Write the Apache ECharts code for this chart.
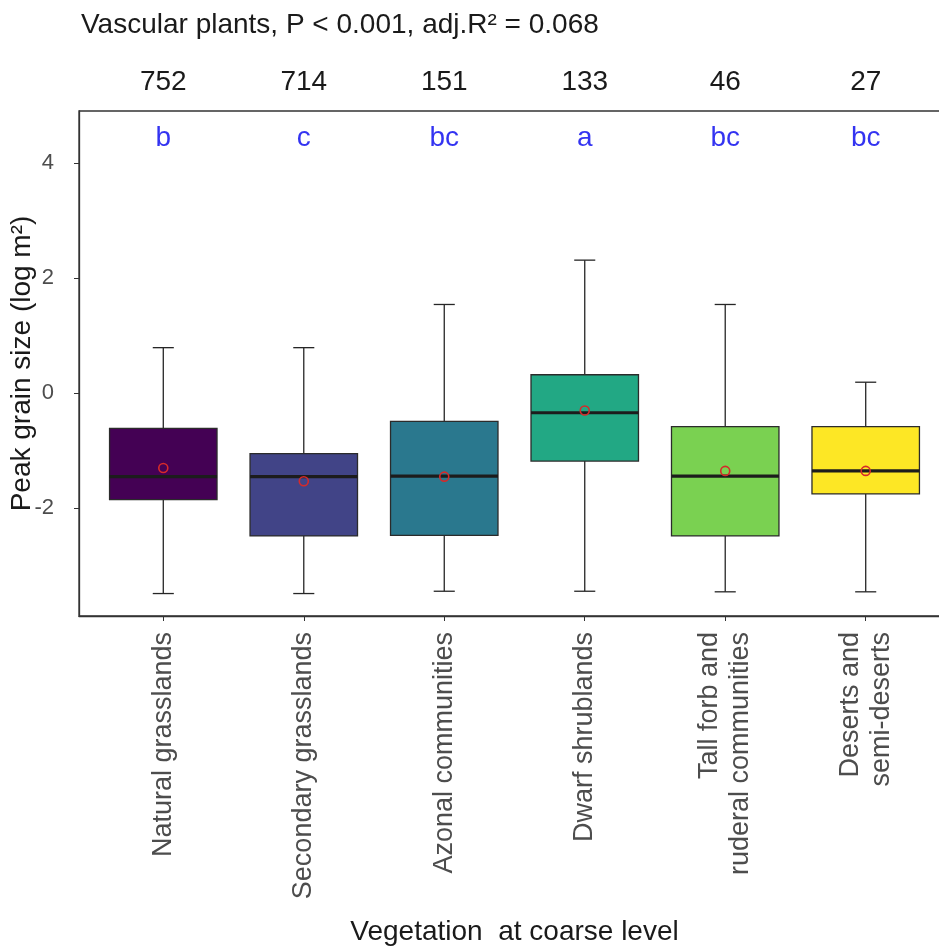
<!DOCTYPE html>
<html>
<head>
<meta charset="utf-8">
<title>Peak grain size by vegetation type</title>
<script src="https://cdn.jsdelivr.net/npm/echarts@6/dist/echarts.min.js"></script>
<style>
  html, body { margin: 0; padding: 0; background: #ffffff; overflow: hidden; }
  #chart { width: 939px; height: 951px; }
</style>
</head>
<body>
<div id="chart"></div>
<script>
// Vegetation classes (coarse level)
const categories = [
  'Natural grasslands',
  'Secondary grasslands',
  'Azonal communities',
  'Dwarf shrublands',
  'Tall forb and\nruderal communities',
  'Deserts and\nsemi-deserts'
];
// Number of plots per class and post-hoc group letters
const sampleSizes = [752, 714, 151, 133, 46, 27];
const groupLetters = ['b', 'c', 'bc', 'a', 'bc', 'bc'];

// Box statistics, log10 peak grain size (m²)
const whiskerLow    = [-3.48, -3.48, -3.44, -3.44, -3.45, -3.45];
const lowerQuartile = [-1.85, -2.48, -2.47, -1.18, -2.48, -1.75];
const medians       = [-1.45, -1.45, -1.44, -0.34, -1.44, -1.35];
const upperQuartile = [-0.61, -1.05, -0.49,  0.32, -0.58, -0.58];
const whiskerHigh   = [ 0.79,  0.79,  1.54,  2.31,  1.54,  0.19];
const means         = [-1.30, -1.53, -1.45, -0.30, -1.35, -1.35];

const yTicks = [-2, 0, 2, 4];
const boxColors = ['#440154', '#414487', '#2A788E', '#22A884', '#7AD151', '#FDE725'];

const FONT = '"Liberation Sans", Arial, Helvetica, sans-serif';
const LETTER_LEVEL = 4.43;
const positions = categories.map((_, i) => i + 1);

const boxData = positions.map((x, i) => [
  x, whiskerLow[i], lowerQuartile[i], medians[i], upperQuartile[i], whiskerHigh[i], means[i]
]);
const letterData = positions.map(x => [x, LETTER_LEVEL]);

function renderBox(params, api) {
  const i = params.dataIndex;
  const xv = api.value(0);
  const cx = api.coord([xv, 0])[0];
  const y = k => api.coord([xv, api.value(k)])[1];
  const yMin = y(1), yQ1 = y(2), yMed = y(3), yQ3 = y(4), yMax = y(5), yMean = y(6);
  const halfBox = api.size([0.765, 0])[0] / 2;
  const halfCap = api.size([0.15, 0])[0] / 2;
  const line = { stroke: '#262626', lineWidth: 1.3 };
  return {
    type: 'group',
    children: [
      { type: 'line', shape: { x1: cx, y1: yQ3, x2: cx, y2: yMax }, style: line },
      { type: 'line', shape: { x1: cx, y1: yQ1, x2: cx, y2: yMin }, style: line },
      { type: 'line', shape: { x1: cx - halfCap, y1: yMax, x2: cx + halfCap, y2: yMax }, style: line },
      { type: 'line', shape: { x1: cx - halfCap, y1: yMin, x2: cx + halfCap, y2: yMin }, style: line },
      {
        type: 'rect',
        shape: { x: cx - halfBox, y: yQ3, width: 2 * halfBox, height: yQ1 - yQ3 },
        style: { fill: boxColors[i], stroke: '#2b2b2b', lineWidth: 1.3 }
      },
      {
        type: 'line',
        shape: { x1: cx - halfBox, y1: yMed, x2: cx + halfBox, y2: yMed },
        style: { stroke: '#1c1c1c', lineWidth: 3.2 }
      },
      {
        type: 'circle',
        shape: { cx: cx, cy: yMean, r: 4.5 },
        style: { fill: 'none', stroke: '#d62a2a', lineWidth: 1.6 }
      }
    ]
  };
}

const chart = echarts.init(document.getElementById('chart'), null, { renderer: 'canvas' });

chart.setOption({
  backgroundColor: '#ffffff',
  animation: false,
  title: {
    text: 'Vascular plants, P < 0.001, adj.R² = 0.068',
    left: 76,
    top: 6,
    textStyle: { fontFamily: FONT, fontSize: 28, fontWeight: 'normal', color: '#1a1a1a' }
  },
  grid: {
    left: 79,
    top: 111,
    width: 871,
    height: 505,
    outerBoundsMode: 'none',
    containLabel: false,
    show: true,
    borderColor: '#333333',
    borderWidth: 1.3,
    backgroundColor: 'transparent'
  },
  xAxis: [
    {
      type: 'value',
      min: 0.4,
      max: 6.6,
      position: 'bottom',
      splitLine: { show: false },
      axisLine: { show: true, onZero: false, lineStyle: { color: '#333333', width: 1.3 } },
      axisTick: { show: true, customValues: positions, length: 5, lineStyle: { color: '#333333' } },
      axisLabel: {
        customValues: positions,
        formatter: v => categories[Math.round(v) - 1],
        rotate: 90,
        margin: 16,
        fontFamily: FONT,
        fontSize: 27,
        lineHeight: 31,
        color: '#4d4d4d'
      },
      name: 'Vegetation  at coarse level',
      nameLocation: 'middle',
      nameGap: 302,
      nameMoveOverlap: false,
      nameTextStyle: { fontFamily: FONT, fontSize: 28, color: '#1a1a1a' }
    },
    {
      type: 'value',
      min: 0.4,
      max: 6.6,
      position: 'top',
      splitLine: { show: false },
      axisLine: { show: false, onZero: false },
      axisTick: { show: false },
      axisLabel: {
        customValues: positions,
        formatter: v => String(sampleSizes[Math.round(v) - 1]),
        margin: 15,
        fontFamily: FONT,
        fontSize: 28,
        color: '#1a1a1a'
      }
    }
  ],
  yAxis: {
    type: 'value',
    min: -3.87,
    max: 4.9,
    splitLine: { show: false },
    axisLine: { show: true, onZero: false, lineStyle: { color: '#333333', width: 1.3 } },
    axisTick: { show: true, customValues: yTicks, length: 5, lineStyle: { color: '#333333' } },
    axisLabel: {
      customValues: yTicks,
      margin: 25,
      fontFamily: FONT,
      fontSize: 22,
      color: '#4d4d4d'
    },
    name: 'Peak grain size (log m²)',
    nameLocation: 'middle',
    nameRotate: 90,
    nameGap: 43,
    nameMoveOverlap: false,
    nameTextStyle: { fontFamily: FONT, fontSize: 28, color: '#1a1a1a' }
  },
  series: [
    {
      type: 'custom',
      name: 'boxes',
      xAxisIndex: 0,
      renderItem: renderBox,
      encode: { x: 0, y: [1, 2, 3, 4, 5, 6] },
      data: boxData,
      clip: false
    },
    {
      type: 'scatter',
      name: 'letters',
      xAxisIndex: 0,
      symbolSize: 1,
      itemStyle: { color: 'transparent' },
      data: letterData,
      label: {
        show: true,
        position: 'inside',
        formatter: p => groupLetters[p.dataIndex],
        fontFamily: FONT,
        fontSize: 28,
        color: '#0000ee'
      }
    }
  ]
});
</script>
</body>
</html>
